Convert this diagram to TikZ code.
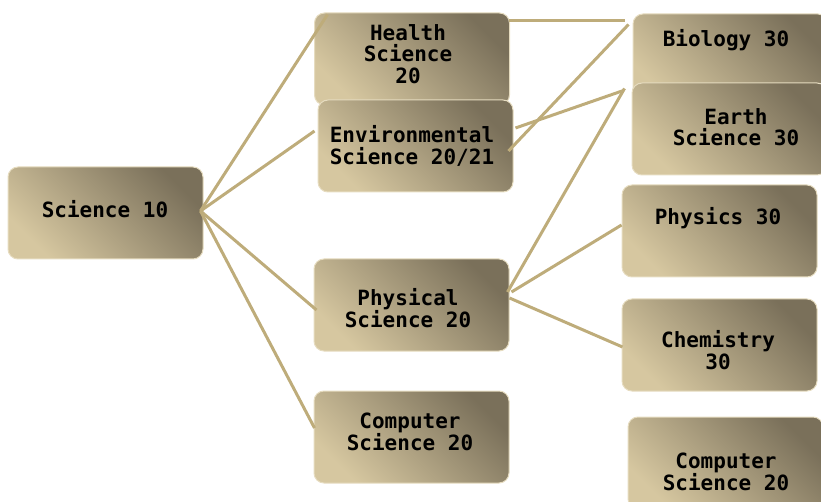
\documentclass[tikz,border=0pt]{standalone}
\usepackage{fontspec}
\setmonofont{DejaVu Sans Mono}
\usetikzlibrary{calc}
\definecolor{boxdark}{HTML}{7A705A}
\definecolor{boxlight}{HTML}{D6C7A0}
\definecolor{boxrim}{HTML}{E6DCC0}
\definecolor{linktan}{HTML}{BEAC7A}

\begin{document}
\begin{tikzpicture}[
		x=1pt,y=-1pt,
		course/.style={draw=boxrim,line width=1pt,rounded corners=10pt,
			top color=boxdark,bottom color=boxlight,shading angle=-45,
			minimum width=195pt,minimum height=92pt,inner sep=0pt},
		course label/.style={font=\ttfamily\bfseries\fontsize{21}{21.5}\selectfont,
			align=center,inner sep=0pt},
		link/.style={linktan,line width=3pt}
		]
		\useasboundingbox (0,0) rectangle (821,502);

		\node[course] (sci)      at (105.5,213) {};
		\node[course] (health)   at (412,59)    {};
		\node[course] (env)      at (415.5,146) {};
		\node[course] (bio)      at (730.5,60)  {};
		\node[course] (earth)    at (729.5,129) {};
		\node[course] (physics)  at (719.5,231) {};
		\node[course] (physical) at (411.5,305) {};
		\node[course] (chem)     at (719.5,345) {};
		\node[course] (comp)     at (411.5,437) {};
		\node[course] (rcomp)    at (725.5,463) {};

		\node[course label] (sci-t)      at (105,209) {Science 10};
		\node[course label] (health-t)   at (408,54)  {Health\\Science\\20};
		\node[course label] (env-t)      at (412,146) {Environmental\\Science 20/21};
		\node[course label] (bio-t)      at (726,40)  {Biology 30};
		\node[course label] (earth-t)    at (736,127) {Earth\\Science 30};
		\node[course label] (physics-t)  at (718,218) {Physics 30};
		\node[course label] (physical-t) at (408,308) {Physical\\Science 20};
		\node[course label] (chem-t)     at (718,350) {Chemistry\\30};
		\node[course label] (comp-t)     at (410,432) {Computer\\Science 20};
		\node[course label] (rcomp-t)    at (726,472) {Computer\\Science 20};

		\draw[link] ($(sci.east)+(-3,-2)$) -- ($(health.north west)+(13.5,2)$);
		\draw[link] ($(sci.east)+(-3,-2)$) -- ($(env.west)+(-3,-15)$);
		\draw[link] ($(sci.east)+(-3,-2)$) -- ($(physical.west)+(3,5)$);
		\draw[link] ($(sci.east)+(-3,-2)$) -- ($(comp.west)+(1,-9)$);
		\draw[link] ($(health.north east)+(-1,8)$) -- ($(bio.north west)+(-8,7)$);
		\draw[link] ($(env.east)+(-5,5)$) -- ($(bio.north west)+(-4,11)$);
		\draw[link] ($(env.east)+(2,-18)$) -- ($(earth.north west)+(-8,8)$);
		\draw[link] ($(physical.east)+(-2,-13)$) -- ($(earth.north west)+(-7,6)$);
		\draw[link] ($(physical.east)+(2,-13)$) -- ($(physics.west)+(0,-6)$);
		\draw[link] ($(physical.east)+(0,-7)$) -- ($(chem.west)+(1,2)$);
	\end{tikzpicture}
\end{document}
